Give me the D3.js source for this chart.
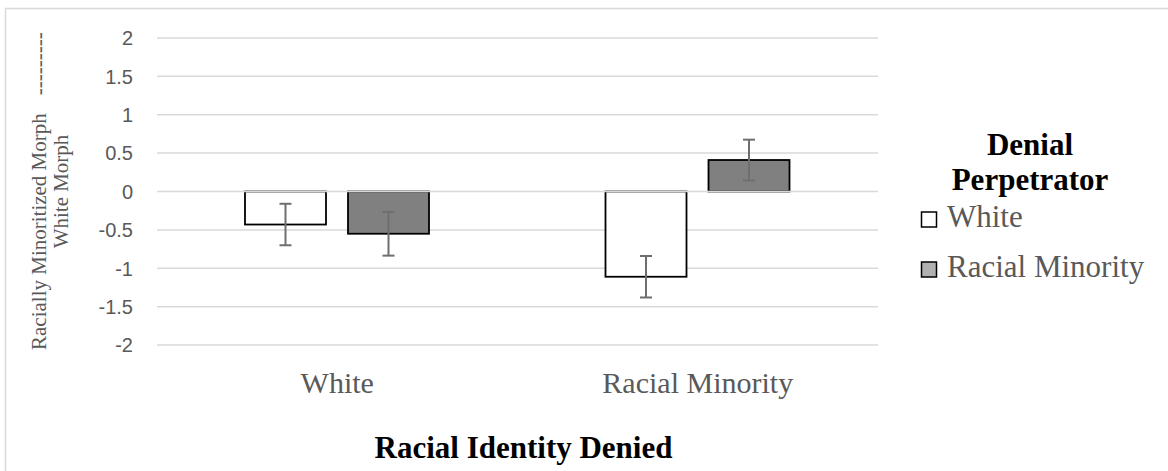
<!DOCTYPE html>
<html>
<head>
<meta charset="utf-8">
<script src="https://cdn.jsdelivr.net/npm/d3@7"></script>
<style>
  html, body { margin: 0; padding: 0; background: #fff; }
  svg { display: block; }
</style>
</head>
<body>
<svg id="chart" width="1168" height="471"></svg>
<script>
// ---- data ----
const categories = ["White", "Racial Minority"];
const seriesNames = ["White", "Racial Minority"];
const whitePerpetrator = [-0.43, -1.11];
const minorityPerpetrator = [-0.55, 0.41];
const whiteErr = [0.27, 0.27];
const minorityErr = [0.285, 0.265];
const yTicks = [2, 1.5, 1, 0.5, 0, -0.5, -1, -1.5, -2];
const xTitle = "Racial Identity Denied";
const yTitleLine1 = "Racially Minoritized Morph";
const yTitleDashes = "---------";
const yTitleLine2 = "White Morph";
const legendTitle = ["Denial", "Perpetrator"];

const seriesValues = [whitePerpetrator, minorityPerpetrator];
const seriesErrors = [whiteErr, minorityErr];
const seriesFill = ["#ffffff", "#808080"];
const legendFill = ["#ffffff", "#b0b0b0"];

const svg = d3.select("#chart");
const serif = "'Liberation Serif', 'Times New Roman', serif";
const sans = "'Liberation Sans', Arial, sans-serif";

// outer border
svg.append("rect")
  .attr("x", 5.5).attr("y", 8.5)
  .attr("width", 1300).attr("height", 600)
  .attr("fill", "none").attr("stroke", "#d9d9d9").attr("stroke-width", 1.5);

const plotL = 157, plotR = 878;
const y = d3.scaleLinear().domain([-2, 2]).range([345.1, 37.9]);
const x0 = d3.scaleBand().domain(categories).range([plotL, plotR]).paddingInner(0).paddingOuter(0);
const x1 = d3.scaleBand().domain(d3.range(seriesNames.length)).range([88, 272]).paddingInner(0.2136).paddingOuter(0);

// gridlines (except zero, drawn after bars)
svg.append("g").selectAll("line")
  .data(yTicks.filter(d => d !== 0)).join("line")
  .attr("x1", plotL).attr("x2", plotR)
  .attr("y1", d => y(d)).attr("y2", d => y(d))
  .attr("stroke", "#d9d9d9").attr("stroke-width", 1.5);

// tick labels
svg.append("g").selectAll("text")
  .data(yTicks).join("text")
  .attr("x", 133).attr("y", d => y(d))
  .attr("dy", "0.36em")
  .attr("text-anchor", "end")
  .attr("font-family", sans).attr("font-size", 20)
  .attr("fill", "#595959")
  .text(d => d);

// bars
const barData = [];
categories.forEach((c, ci) => {
  seriesNames.forEach((s, si) => {
    barData.push({ c, si, v: seriesValues[si][ci], e: seriesErrors[si][ci] });
  });
});

svg.append("g").selectAll("rect")
  .data(barData).join("rect")
  .attr("x", d => x0(d.c) + x1(d.si))
  .attr("width", x1.bandwidth())
  .attr("y", d => y(Math.max(0, d.v)))
  .attr("height", d => Math.abs(y(d.v) - y(0)))
  .attr("fill", d => seriesFill[d.si])
  .attr("stroke", "#000").attr("stroke-width", 1.8);

// zero line
svg.append("line")
  .attr("x1", plotL).attr("x2", plotR)
  .attr("y1", y(0)).attr("y2", y(0))
  .attr("stroke", "#d9d9d9").attr("stroke-width", 1.5);

// error bars
const eb = svg.append("g").attr("stroke", "#6e6e6e").attr("stroke-width", 2);
barData.forEach(d => {
  const cx = x0(d.c) + x1(d.si) + x1.bandwidth() / 2;
  const yt = y(d.v + d.e), yb = y(d.v - d.e);
  eb.append("line").attr("x1", cx).attr("x2", cx).attr("y1", yt).attr("y2", yb);
  eb.append("line").attr("x1", cx - 6).attr("x2", cx + 6).attr("y1", yt).attr("y2", yt);
  eb.append("line").attr("x1", cx - 6).attr("x2", cx + 6).attr("y1", yb).attr("y2", yb);
});

// category labels
svg.append("g").selectAll("text")
  .data(categories).join("text")
  .attr("x", d => x0(d) + x0.bandwidth() / 2)
  .attr("y", 393)
  .attr("text-anchor", "middle")
  .attr("font-family", serif).attr("font-size", 30)
  .attr("fill", "#595959")
  .text(d => d);

// x axis title
svg.append("text")
  .attr("x", (plotL + plotR) / 2 + 6).attr("y", 458)
  .attr("text-anchor", "middle")
  .attr("font-family", serif).attr("font-size", 31).attr("font-weight", "bold")
  .attr("fill", "#000")
  .text(xTitle);

// y axis title (two lines, rotated)
const yt1 = svg.append("text")
  .attr("transform", "translate(45.5,350) rotate(-90)")
  .attr("text-anchor", "start")
  .attr("font-family", serif).attr("font-size", 21)
  .attr("fill", "#595959");
yt1.append("tspan").text(yTitleLine1);
yt1.append("tspan").attr("dx", 18).text(yTitleDashes);

svg.append("text")
  .attr("transform", `translate(67.5,${y(0)}) rotate(-90)`)
  .attr("text-anchor", "middle")
  .attr("font-family", serif).attr("font-size", 21)
  .attr("fill", "#595959")
  .text(yTitleLine2);

// legend
const lg = svg.append("g");
lg.selectAll("text.lt")
  .data(legendTitle).join("text")
  .attr("class", "lt")
  .attr("x", 1030).attr("y", (d, i) => 155 + i * 35)
  .attr("text-anchor", "middle")
  .attr("font-family", serif).attr("font-size", 31).attr("font-weight", "bold")
  .attr("fill", "#000")
  .text(d => d);

const items = lg.selectAll("g.item")
  .data(seriesNames).join("g")
  .attr("class", "item")
  .attr("transform", (d, i) => `translate(0,${227 + i * 50})`);
items.append("rect")
  .attr("x", 921.5).attr("y", -15)
  .attr("width", 15).attr("height", 15)
  .attr("fill", (d, i) => legendFill[i])
  .attr("stroke", "#000").attr("stroke-width", 1.5);
items.append("text")
  .attr("x", 947)
  .attr("font-family", serif).attr("font-size", 31)
  .attr("fill", "#595959")
  .text(d => d);
</script>
</body>
</html>
